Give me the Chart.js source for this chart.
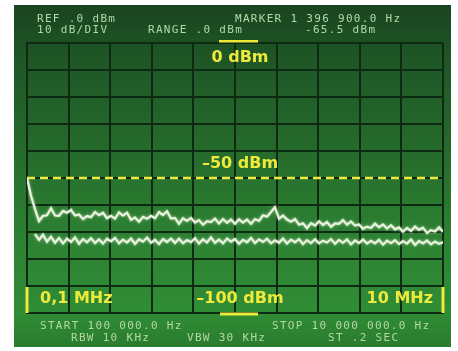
<!DOCTYPE html>
<html>
<head>
<meta charset="utf-8">
<script src="https://cdn.jsdelivr.net/npm/chart.js@4.4.1/dist/chart.umd.min.js"></script>
<style>
  html, body { margin: 0; padding: 0; background: #ffffff; }
  #wrap { width: 458px; height: 351px; }
</style>
</head>
<body>
<div id="wrap"><canvas id="c" width="458" height="351"></canvas></div>
<script>
// ---- data ----
const freqStartMHz = 0.1;
const freqStopMHz = 10;
const xDivisions = 10;
const refLevelDbm = 0;
const bottomLevelDbm = -100;
const dbPerDiv = 10;
const thresholdDbm = -50;

// upper trace (dBm), evenly spaced sweep points across the span
const upperTrace = [
  -50.0, -56.6, -61.5, -66.0, -64.0, -63.8, -61.2, -63.9, -64.0, -62.2,
  -62.9, -61.8, -63.9, -63.5, -65.2, -64.1, -64.5, -62.6, -63.8, -62.9,
  -64.9, -64.0, -65.1, -62.7, -63.9, -62.8, -65.5, -64.6, -66.2, -64.4,
  -65.1, -64.0, -64.9, -62.6, -63.7, -62.3, -65.0, -64.8, -67.0, -64.9,
  -65.9, -64.8, -66.5, -65.6, -67.3, -66.0, -66.3, -65.0, -66.9, -65.2,
  -66.6, -65.4, -67.0, -65.3, -66.5, -65.4, -67.0, -65.2, -65.9, -63.8,
  -64.3, -62.6, -60.8, -65.1, -63.9, -65.4, -66.2, -65.2, -67.3, -66.8,
  -68.6, -66.7, -67.6, -66.0, -67.4, -66.3, -68.1, -66.8, -67.0, -65.6,
  -67.3, -66.1, -67.6, -67.2, -68.8, -68.0, -68.5, -66.9, -68.3, -67.2,
  -68.7, -67.5, -69.0, -68.3, -69.9, -68.5, -69.6, -68.0, -69.2, -68.4,
  -70.4, -69.3, -69.8, -68.3, -69.9
];

// lower trace (dBm), same sweep points; first points hidden under the upper trace
const lowerTrace = [
  null, null, -70.8, -72.9, -71.0, -73.6, -71.7, -74.0, -72.2, -74.2,
  -72.4, -73.7, -72.0, -74.4, -72.6, -73.8, -72.3, -74.1, -72.7, -74.3,
  -72.5, -73.5, -72.2, -74.2, -72.8, -73.9, -72.4, -74.4, -72.7, -73.6,
  -72.1, -74.0, -72.9, -74.5, -72.6, -73.7, -72.4, -74.1, -72.5, -74.2,
  -73.0, -73.8, -72.3, -74.3, -72.7, -73.9, -72.0, -74.0, -72.8, -74.2,
  -72.4, -73.6, -72.6, -74.4, -72.9, -73.8, -72.2, -74.1, -72.7, -73.7,
  -72.5, -74.2, -73.1, -74.0, -72.4, -74.3, -72.8, -73.8, -72.6, -74.5,
  -73.0, -74.1, -72.7, -74.2, -73.2, -73.9, -72.6, -74.4, -72.9, -74.0,
  -72.7, -74.6, -73.1, -74.1, -72.8, -74.3, -73.3, -74.2, -72.9, -74.7,
  -73.2, -74.1, -73.0, -74.5, -73.4, -74.3, -72.8, -74.8, -73.3, -74.2,
  -73.1, -74.6, -73.5, -74.4, -73.8
];

const headerLines = [
  { text: "REF .0 dBm", x: 37, y: 22 },
  { text: "MARKER 1 396 900.0 Hz", x: 235, y: 22 },
  { text: "10 dB/DIV", x: 37, y: 33 },
  { text: "RANGE .0 dBm", x: 148, y: 33 },
  { text: "-65.5 dBm", x: 305, y: 33 }
];
const footerLines = [
  { text: "START 100 000.0 Hz", x: 40, y: 329 },
  { text: "STOP 10 000 000.0 Hz", x: 272, y: 329 },
  { text: "RBW 10 KHz", x: 71, y: 341 },
  { text: "VBW 30 KHz", x: 187, y: 341 },
  { text: "ST .2 SEC", x: 328, y: 341 }
];
const labelRef = "0 dBm";
const labelThreshold = "\u201350 dBm";
const labelBottom = "\u2013100 dBm";
const labelStart = "0,1 MHz";
const labelStop = "10 MHz";

// ---- build ----
function toPoints(arr) {
  const n = arr.length;
  return arr.map((v, i) => ({ x: freqStartMHz + i * (freqStopMHz - freqStartMHz) / (n - 1), y: v }));
}

const GRID = '#0e2a12';
const YELLOW = '#eeea3c';
const TEXTGREEN = '#b3d9a6';

const bgPlugin = {
  id: 'bg',
  beforeDraw(chart) {
    const ctx = chart.ctx;
    ctx.save();
    ctx.fillStyle = '#ffffff';
    ctx.fillRect(0, 0, chart.width, chart.height);
    const g = ctx.createLinearGradient(0, 5, 0, 347);
    g.addColorStop(0.00, '#1a4420');
    g.addColorStop(0.15, '#1e5626');
    g.addColorStop(0.45, '#266d2c');
    g.addColorStop(0.70, '#2d8333');
    g.addColorStop(0.90, '#308c35');
    g.addColorStop(1.00, '#2a7b2e');
    ctx.fillStyle = g;
    ctx.fillRect(14, 5, 437, 342);
    ctx.restore();
  }
};

const glowPlugin = {
  id: 'glow',
  beforeDatasetDraw(chart, args) {
    if (args.index < 2) {
      chart.ctx.save();
      chart.ctx.shadowColor = 'rgba(225,245,210,0.7)';
      chart.ctx.shadowBlur = 3;
    }
  },
  afterDatasetDraw(chart, args) {
    if (args.index < 2) chart.ctx.restore();
  }
};

const textPlugin = {
  id: 'texts',
  afterDraw(chart) {
    const ctx = chart.ctx;
    const ys = chart.scales.y;
    const a = chart.chartArea;
    ctx.save();
    ctx.font = '11px "DejaVu Sans Mono", monospace';
    try { ctx.letterSpacing = '1.3px'; } catch (e) {}
    ctx.fillStyle = TEXTGREEN;
    ctx.textBaseline = 'alphabetic';
    ctx.textAlign = 'left';
    headerLines.concat(footerLines).forEach(l => ctx.fillText(l.text, l.x, l.y));
    try { ctx.letterSpacing = '0px'; } catch (e) {}

    ctx.fillStyle = YELLOW;
    ctx.font = 'bold 16px "DejaVu Sans", sans-serif';
    const cx = (a.left + a.right) / 2 + 5;
    ctx.textAlign = 'center';
    ctx.fillText(labelRef, cx, ys.getPixelForValue(refLevelDbm) + 19);
    ctx.fillText(labelThreshold, cx, ys.getPixelForValue(thresholdDbm) - 10);
    ctx.fillText(labelBottom, cx, ys.getPixelForValue(bottomLevelDbm) - 10);
    ctx.textAlign = 'left';
    ctx.fillText(labelStart, a.left + 13, ys.getPixelForValue(bottomLevelDbm) - 10);
    ctx.textAlign = 'right';
    ctx.fillText(labelStop, a.right - 10, ys.getPixelForValue(bottomLevelDbm) - 10);

    ctx.fillRect(219, 40, 39, 2.5);
    ctx.fillRect(cx - 20, ys.getPixelForValue(bottomLevelDbm) - 0.5, 38, 3);
    const yb = ys.getPixelForValue(bottomLevelDbm);
    ctx.fillRect(a.left - 1.5, yb - 26, 3, 26);
    ctx.fillRect(a.right - 1.5, yb - 26, 3, 26);
    ctx.restore();
  }
};

new Chart(document.getElementById('c'), {
  type: 'line',
  data: {
    datasets: [
      {
        data: toPoints(upperTrace),
        borderColor: '#eaf3de',
        borderWidth: 2.2,
        pointRadius: 0,
        tension: 0,
        spanGaps: false
      },
      {
        data: toPoints(lowerTrace),
        borderColor: '#eaf3de',
        borderWidth: 2.2,
        pointRadius: 0,
        tension: 0,
        spanGaps: false
      },
      {
        data: [{ x: freqStartMHz, y: thresholdDbm }, { x: freqStopMHz, y: thresholdDbm }],
        borderColor: YELLOW,
        borderWidth: 2.5,
        borderDash: [8, 5],
        pointRadius: 0
      }
    ]
  },
  options: {
    responsive: false,
    animation: false,
    events: [],
    layout: { padding: { left: 27, right: 15, top: 43, bottom: 38 } },
    plugins: { legend: { display: false }, tooltip: { enabled: false }, title: { display: false } },
    scales: {
      x: {
        type: 'linear',
        min: freqStartMHz,
        max: freqStopMHz,
        afterBuildTicks(scale) {
          const t = [];
          for (let k = 0; k <= xDivisions; k++) t.push({ value: freqStartMHz + k * (freqStopMHz - freqStartMHz) / xDivisions });
          scale.ticks = t;
        },
        ticks: { display: false },
        grid: { color: GRID, lineWidth: 2, drawTicks: false },
        border: { display: true, color: GRID, width: 2 }
      },
      y: {
        type: 'linear',
        min: bottomLevelDbm,
        max: refLevelDbm,
        ticks: { display: false, stepSize: dbPerDiv },
        grid: { color: GRID, lineWidth: 2, drawTicks: false },
        border: { display: true, color: GRID, width: 2 }
      }
    }
  },
  plugins: [bgPlugin, glowPlugin, textPlugin]
});
</script>
</body>
</html>
